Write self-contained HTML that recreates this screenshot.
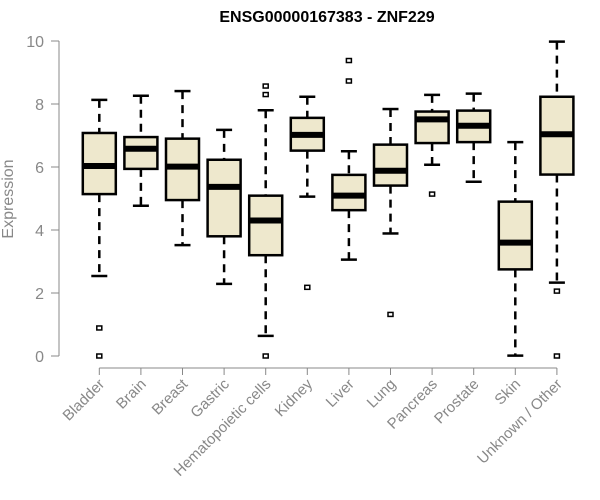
<!DOCTYPE html>
<html><head><meta charset="utf-8"><style>
html,body{margin:0;padding:0;background:#fff;}
svg{display:block;font-family:"Liberation Sans",Arial,sans-serif;}
</style></head><body>
<svg id="chart" width="600" height="500"></svg>
<script>
const categories=["Bladder","Brain","Breast","Gastric","Hematopoietic cells","Kidney","Liver","Lung","Pancreas","Prostate","Skin","Unknown / Other"];
const lowerWhisker=[2.54,4.77,3.52,2.29,0.64,5.06,3.06,3.89,6.07,5.53,0.01,2.33];
const q1=[5.14,5.94,4.95,3.8,3.2,6.52,4.63,5.41,6.76,6.79,2.75,5.76];
const medians=[6.03,6.58,6.01,5.37,4.3,7.02,5.09,5.88,7.51,7.31,3.6,7.04];
const q3=[7.08,6.95,6.9,6.23,5.09,7.56,5.75,6.71,7.76,7.79,4.9,8.23];
const upperWhisker=[8.13,8.26,8.41,7.18,7.8,8.23,6.5,7.84,8.29,8.33,6.79,9.98];
const outliers=[[0.89,0],[],[],[],[8.57,8.3,0],[2.18],[9.38,8.73],[1.32],[5.14],[],[],[2.06,0]];
const yTicks=[0,2,4,6,8,10];
const NS="http://www.w3.org/2000/svg";
const svg=document.getElementById('chart');
function y(v){return 356-v*31.5;}
function x(i){return 99.3+41.6*i;}
function mk(t,a,p){const e=document.createElementNS(NS,t);for(const k in a)e.setAttribute(k,a[k]);(p||svg).appendChild(e);return e;}
const title=mk('text',{x:327,y:22,'text-anchor':'middle','font-size':16,'font-weight':'bold',fill:'#000'});
title.textContent="ENSG00000167383 - ZNF229";


const yax=mk('g',{});


mk('line',{x1:59,x2:59,y1:y(0),y2:y(10),stroke:'#888','stroke-width':1},yax);
yTicks.forEach(t=>{
 mk('line',{x1:51,x2:59,y1:y(t),y2:y(t),stroke:'#888'},yax);
 const tx=mk('text',{x:44,y:y(t)+6,'text-anchor':'end','font-size':16,fill:'#888'},yax);
 tx.textContent=t;
 
 
});
const yt=mk('text',{x:0,y:0,transform:'translate(13,199) rotate(-90)','text-anchor':'middle','font-size':16,fill:'#888'});
yt.textContent="Expression";


const xax=mk('g',{});


mk('line',{x1:x(0),x2:x(categories.length-1),y1:368,y2:368,stroke:'#888'},xax);
categories.forEach((c,i)=>{
 mk('line',{x1:x(i),x2:x(i),y1:368,y2:375,stroke:'#888'},xax);
 const tx=mk('text',{x:0,y:0,transform:`translate(${x(i)+6},${385}) rotate(-45)`,'text-anchor':'end','font-size':15,fill:'#888'},xax);
 tx.textContent=c;
 
 
});
categories.forEach((c,i)=>{
 const g=mk('g',{});
 
 
 const cx=x(i),hw=16.5;
 mk('line',{x1:cx,x2:cx,y1:y(upperWhisker[i]),y2:y(q3[i]),stroke:'#000','stroke-width':2.5,'stroke-dasharray':'8,6'},g);
 mk('line',{x1:cx,x2:cx,y1:y(q1[i]),y2:y(lowerWhisker[i]),stroke:'#000','stroke-width':2.5,'stroke-dasharray':'8,6'},g);
 mk('line',{x1:cx-8,x2:cx+8,y1:y(upperWhisker[i]),y2:y(upperWhisker[i]),stroke:'#000','stroke-width':2.5},g);
 mk('line',{x1:cx-8,x2:cx+8,y1:y(lowerWhisker[i]),y2:y(lowerWhisker[i]),stroke:'#000','stroke-width':2.5},g);
 mk('rect',{x:cx-hw,y:y(q3[i]),width:hw*2,height:y(q1[i])-y(q3[i]),fill:'#EEE8CD',stroke:'#000','stroke-width':2.5},g);
 mk('line',{x1:cx-hw,x2:cx+hw,y1:y(medians[i]),y2:y(medians[i]),stroke:'#000','stroke-width':6},g);
 outliers[i].forEach(o=>{
  const r=mk('rect',{x:cx-2.5,y:y(o)-2,width:5,height:4,fill:'#fff',stroke:'#000','stroke-width':1.5},g);
  
  
 });
});
</script>
</body></html>
